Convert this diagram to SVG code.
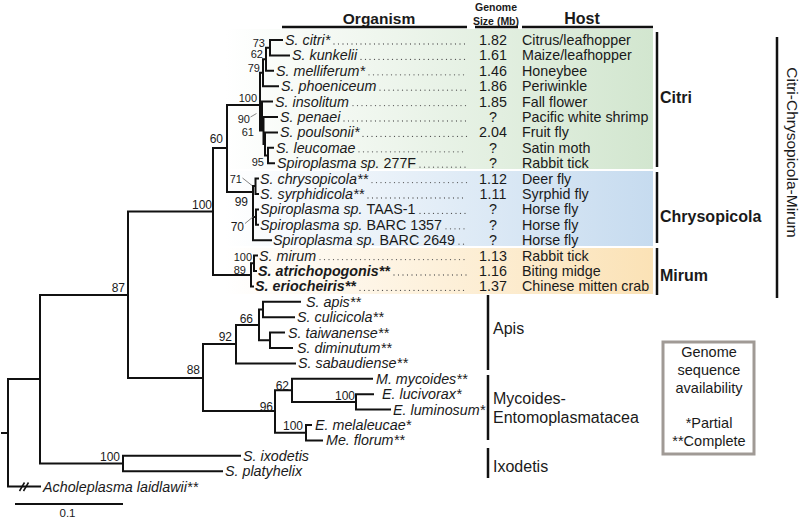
<svg xmlns="http://www.w3.org/2000/svg" width="800" height="520" viewBox="0 0 800 520">
<defs>
<linearGradient id="gG" gradientUnits="userSpaceOnUse" x1="225" y1="0" x2="653" y2="0"><stop offset="0" stop-color="#ffffff"/><stop offset="1" stop-color="#d2e6cf"/></linearGradient>
<linearGradient id="gB" gradientUnits="userSpaceOnUse" x1="225" y1="0" x2="653" y2="0"><stop offset="0" stop-color="#ffffff"/><stop offset="1" stop-color="#c6dbef"/></linearGradient>
<linearGradient id="gY" gradientUnits="userSpaceOnUse" x1="225" y1="0" x2="653" y2="0"><stop offset="0" stop-color="#ffffff"/><stop offset="1" stop-color="#fbe2b6"/></linearGradient>
</defs>
<style>
text{font-family:"Liberation Sans",Arial,sans-serif;fill:#1a1a1a}
.sp{font-size:14.3px;font-style:italic}
.sb{font-size:14.3px;font-style:italic;font-weight:bold}
.n{font-size:14.3px}
.num{font-size:14.3px;text-anchor:middle}
.bs{font-size:12px;text-anchor:end}
.bs2{font-size:11px;text-anchor:end}
.br{fill:none;stroke:#111;stroke-width:2;stroke-linecap:square}
.dot{stroke:#555;stroke-width:1.3;stroke-dasharray:0 4.5;stroke-linecap:round}
.bar{stroke:#111;stroke-width:2.5}
.grp{font-size:16px}
.grpb{font-size:16px;font-weight:bold}
.hd{font-weight:bold;text-anchor:middle}
.ld{stroke:#666;stroke-width:0.8}
</style>
<rect width="800" height="520" fill="#ffffff"/>
<g id="bands">
<rect x="225" y="29" width="428" height="140" fill="url(#gG)"/>
<rect x="225" y="171" width="428" height="75" fill="url(#gB)"/>
<rect x="225" y="248" width="428" height="46" fill="url(#gY)"/>
</g>
<g id="header">
<text class="hd" x="379" y="24" style="font-size:15.5px">Organism</text>
<text class="hd" x="496" y="11" style="font-size:10.5px">Genome</text>
<text class="hd" x="496" y="24.5" style="font-size:10.5px">Size (Mb)</text>
<text class="hd" x="582" y="24" style="font-size:16px">Host</text>
<line class="bar" x1="282" y1="27" x2="467" y2="27"/>
<line class="bar" x1="475" y1="27" x2="518" y2="27"/>
<line class="bar" x1="522" y1="27" x2="653" y2="27"/>
</g>
<g id="connectors">
<path class="br" d="M2,433H8M8,379V486.6M8,379H40M8,486.6H40
M40,295V463.5M40,295H128M40,463.5H123
M123,455.8V471.2M123,455.8H240M123,471.2H222
M128,211.5V378M128,211.5H213M128,378H203
M203,344V411M203,344H236M203,411H275
M236,325V363.4M236,325H259M236,363.4H295
M259,309.5V340.3M259,309.5H263M259,340.3H270
M263,301.8V317.2M263,301.8H300M263,317.2H294
M270,332.6V348M270,332.6H284M270,348H292
M275,390.3V432.7M275,390.3H292M275,432.7H306
M292,378.8V401.9M292,378.8H372M292,401.9H356
M356,394.2V409.6M356,394.2H373M356,409.6H390
M306,425V440.4M306,425H311M306,440.4H322
M213,148V275M213,148H227M213,275H251
M251,263.3V286.4M251,263.3H254M251,286.4H253
M254,255.6V271M254,255.6H257M254,271H256
M227,105V192M227,105H260M227,192H253
M253,186V240.2M253,240.2H271M253,186H255.5M253,217H256
M255.5,178.6V194M255.5,178.6H258M255.5,194H258
M256,209.4V224.8M256,209.4H258M256,224.8H258
M260,72.7V130.5M260,72.7H263M260,116H262
M263,59.2V86.2M263,59.2H266M263,86.2H278
M266,47.7V70.8M266,47.7H270M266,70.8H273
M270,40V55.4M270,40H282M270,55.4H289
M262,101.6V130.5M262,101.6H272M262,130.5H263.5
M263.5,117V144M263.5,117H277M263.5,144H265
M265,132.4V155.5M265,132.4H277M265,155.5H268
M268,147.8V163.2M268,147.8H273M268,163.2H274"/>
<path d="M19.5,491L24.5,482.5M23.5,491L28.5,482.5" stroke="#111" stroke-width="1.5" fill="none"/>
<line class="ld" x1="250.5" y1="117" x2="256.5" y2="113.5"/>
<line class="ld" x1="242.5" y1="178" x2="252" y2="185.5"/>
<line class="ld" x1="245" y1="223.5" x2="253.5" y2="216.5"/>
</g>
<g id="support">
<text class="bs2" x="265" y="46.5">73</text>
<text class="bs2" x="263" y="58">62</text>
<text class="bs2" x="260" y="72">79</text>
<text class="bs2" x="257" y="102">100</text>
<text class="bs2" x="250" y="123">90</text>
<text class="bs2" x="254" y="135.5">61</text>
<text class="bs2" x="264" y="166">95</text>
<text class="bs" x="223" y="142.5">60</text>
<text class="bs" x="212" y="208.5">100</text>
<text class="bs" x="248" y="206">99</text>
<text class="bs2" x="242" y="183">71</text>
<text class="bs" x="244" y="231">70</text>
<text class="bs2" x="252" y="261">100</text>
<text class="bs2" x="246" y="273.5">89</text>
<text class="bs" x="125" y="292">87</text>
<text class="bs" x="200" y="374">88</text>
<text class="bs" x="232" y="341">92</text>
<text class="bs" x="253" y="322.5">66</text>
<text class="bs" x="289" y="389.5">62</text>
<text class="bs" x="355" y="399.5">100</text>
<text class="bs" x="273" y="410.5">96</text>
<text class="bs" x="303" y="429.5">100</text>
<text class="bs" x="120" y="461">100</text>
</g>
<g id="leaf-citri"><text class="sp" x="285" y="45">S. citri*</text><line class="dot" x1="334" y1="44" x2="467" y2="44"/><text class="num" x="493" y="45">1.82</text><text class="n" x="522" y="45">Citrus/leafhopper</text></g>
<g id="leaf-kunkelii"><text class="sp" x="292" y="60.4">S. kunkelii</text><line class="dot" x1="361" y1="59.4" x2="467" y2="59.4"/><text class="num" x="493" y="60.4">1.61</text><text class="n" x="522" y="60.4">Maize/leafhopper</text></g>
<g id="leaf-melliferum"><text class="sp" x="276" y="75.8">S. melliferum*</text><line class="dot" x1="369" y1="74.8" x2="467" y2="74.8"/><text class="num" x="493" y="75.8">1.46</text><text class="n" x="522" y="75.8">Honeybee</text></g>
<g id="leaf-phoeniceum"><text class="sp" x="281" y="91.2">S. phoeniceum</text><line class="dot" x1="380" y1="90.2" x2="467" y2="90.2"/><text class="num" x="493" y="91.2">1.86</text><text class="n" x="522" y="91.2">Periwinkle</text></g>
<g id="leaf-insolitum"><text class="sp" x="275" y="106.6">S. insolitum</text><line class="dot" x1="353" y1="105.6" x2="467" y2="105.6"/><text class="num" x="493" y="106.6">1.85</text><text class="n" x="522" y="106.6">Fall flower</text></g>
<g id="leaf-penaei"><text class="sp" x="280" y="122">S. penaei</text><line class="dot" x1="344" y1="121" x2="467" y2="121"/><text class="num" x="493" y="122">?</text><text class="n" x="522" y="122">Pacific white shrimp</text></g>
<g id="leaf-poulsonii"><text class="sp" x="280" y="137.4">S. poulsonii*</text><line class="dot" x1="363" y1="136.4" x2="467" y2="136.4"/><text class="num" x="493" y="137.4">2.04</text><text class="n" x="522" y="137.4">Fruit fly</text></g>
<g id="leaf-leucomae"><text class="sp" x="276" y="152.8">S. leucomae</text><line class="dot" x1="359" y1="151.8" x2="467" y2="151.8"/><text class="num" x="493" y="152.8">?</text><text class="n" x="522" y="152.8">Satin moth</text></g>
<g id="leaf-277F"><text class="sp" x="277" y="168.2">Spiroplasma sp. <tspan font-style="normal">277F</tspan></text><line class="dot" x1="420" y1="167.2" x2="467" y2="167.2"/><text class="num" x="493" y="168.2">?</text><text class="n" x="522" y="168.2">Rabbit tick</text></g>
<g id="leaf-chrysopicola"><text class="sp" x="260" y="183.6">S. chrysopicola**</text><line class="dot" x1="372" y1="182.6" x2="467" y2="182.6"/><text class="num" x="493" y="183.6">1.12</text><text class="n" x="522" y="183.6">Deer fly</text></g>
<g id="leaf-syrphidicola"><text class="sp" x="260" y="199">S. syrphidicola**</text><line class="dot" x1="368" y1="198" x2="467" y2="198"/><text class="num" x="493" y="199">1.11</text><text class="n" x="522" y="199">Syrphid fly</text></g>
<g id="leaf-TAAS1"><text class="sp" x="260" y="214.4">Spiroplasma sp. <tspan font-style="normal">TAAS-1</tspan></text><line class="dot" x1="420" y1="213.4" x2="467" y2="213.4"/><text class="num" x="493" y="214.4">?</text><text class="n" x="522" y="214.4">Horse fly</text></g>
<g id="leaf-BARC1357"><text class="sp" x="260" y="229.8">Spiroplasma sp. <tspan font-style="normal">BARC 1357</tspan></text><line class="dot" x1="446" y1="228.8" x2="467" y2="228.8"/><text class="num" x="493" y="229.8">?</text><text class="n" x="522" y="229.8">Horse fly</text></g>
<g id="leaf-BARC2649"><text class="sp" x="273" y="245.2">Spiroplasma sp. <tspan font-style="normal">BARC 2649</tspan></text><line class="dot" x1="459" y1="244.2" x2="467" y2="244.2"/><text class="num" x="493" y="245.2">?</text><text class="n" x="522" y="245.2">Horse fly</text></g>
<g id="leaf-mirum"><text class="sp" x="259" y="260.6">S. mirum</text><line class="dot" x1="320" y1="259.6" x2="467" y2="259.6"/><text class="num" x="493" y="260.6">1.13</text><text class="n" x="522" y="260.6">Rabbit tick</text></g>
<g id="leaf-atrichopogonis"><text class="sb" x="258" y="276">S. atrichopogonis**</text><line class="dot" x1="394" y1="275" x2="467" y2="275"/><text class="num" x="493" y="276">1.16</text><text class="n" x="522" y="276">Biting midge</text></g>
<g id="leaf-eriocheiris"><text class="sb" x="255" y="291.4">S. eriocheiris**</text><line class="dot" x1="360" y1="290.4" x2="467" y2="290.4"/><text class="num" x="493" y="291.4">1.37</text><text class="n" x="522" y="291.4">Chinese mitten crab</text></g>
<g id="leaf-apis"><text class="sp" x="306" y="306.8">S. apis**</text></g>
<g id="leaf-culicicola"><text class="sp" x="297" y="322.2">S. culicicola**</text></g>
<g id="leaf-taiwanense"><text class="sp" x="288" y="337.6">S. taiwanense**</text></g>
<g id="leaf-diminutum"><text class="sp" x="297" y="353">S. diminutum**</text></g>
<g id="leaf-sabaudiense"><text class="sp" x="298" y="368.4">S. sabaudiense**</text></g>
<g id="leaf-mycoides"><text class="sp" x="376" y="383.8">M. mycoides**</text></g>
<g id="leaf-lucivorax"><text class="sp" x="382" y="399.2">E. lucivorax*</text></g>
<g id="leaf-luminosum"><text class="sp" x="393" y="414.6">E. luminosum*</text></g>
<g id="leaf-melaleucae"><text class="sp" x="315" y="430">E. melaleucae*</text></g>
<g id="leaf-florum"><text class="sp" x="326" y="445.4">Me. florum**</text></g>
<g id="leaf-ixodetis"><text class="sp" x="243" y="460.8">S. ixodetis</text></g>
<g id="leaf-platyhelix"><text class="sp" x="225" y="476.2">S. platyhelix</text></g>
<g id="leaf-acholeplasma"><text class="sp" x="43" y="491.6">Acholeplasma laidlawii**</text></g>
<g id="groups">
<line class="bar" x1="657" y1="32" x2="657" y2="167"/>
<text class="grpb" x="660" y="103">Citri</text>
<line class="bar" x1="657" y1="172" x2="657" y2="243"/>
<text class="grpb" x="660" y="222">Chrysopicola</text>
<line class="bar" x1="657" y1="248" x2="657" y2="295"/>
<text class="grpb" x="660" y="281">Mirum</text>
<line class="bar" x1="777" y1="37" x2="777" y2="298"/>
<text class="grp" style="font-size:15.5px;text-anchor:middle" transform="translate(787,152.5) rotate(90)">Citri-Chrysopicola-Mirum</text>
<line class="bar" x1="488" y1="295" x2="488" y2="370"/>
<text class="grp" x="493" y="334">Apis</text>
<line class="bar" x1="488" y1="375" x2="488" y2="440"/>
<text class="grp" x="493" y="404">Mycoides-</text>
<text class="grp" x="493" y="423">Entomoplasmatacea</text>
<line class="bar" x1="488" y1="448" x2="488" y2="478"/>
<text class="grp" x="493" y="472">Ixodetis</text>
</g>
<g id="legend">
<rect x="663" y="342" width="91" height="112" fill="#ffffff" stroke="#a09a95" stroke-width="3"/>
<text x="709" y="357" style="font-size:14.5px;text-anchor:middle">Genome</text>
<text x="709" y="375" style="font-size:14.5px;text-anchor:middle">sequence</text>
<text x="709" y="393" style="font-size:14.5px;text-anchor:middle">availability</text>
<text x="709" y="428" style="font-size:14.5px;text-anchor:middle">*Partial</text>
<text x="709" y="446" style="font-size:14.5px;text-anchor:middle">**Complete</text>
</g>
<g id="scale">
<line x1="15" y1="504" x2="123" y2="504" stroke="#111" stroke-width="1.8"/>
<text x="67.5" y="516.5" style="font-size:11.5px;text-anchor:middle">0.1</text>
</g>
</svg>
